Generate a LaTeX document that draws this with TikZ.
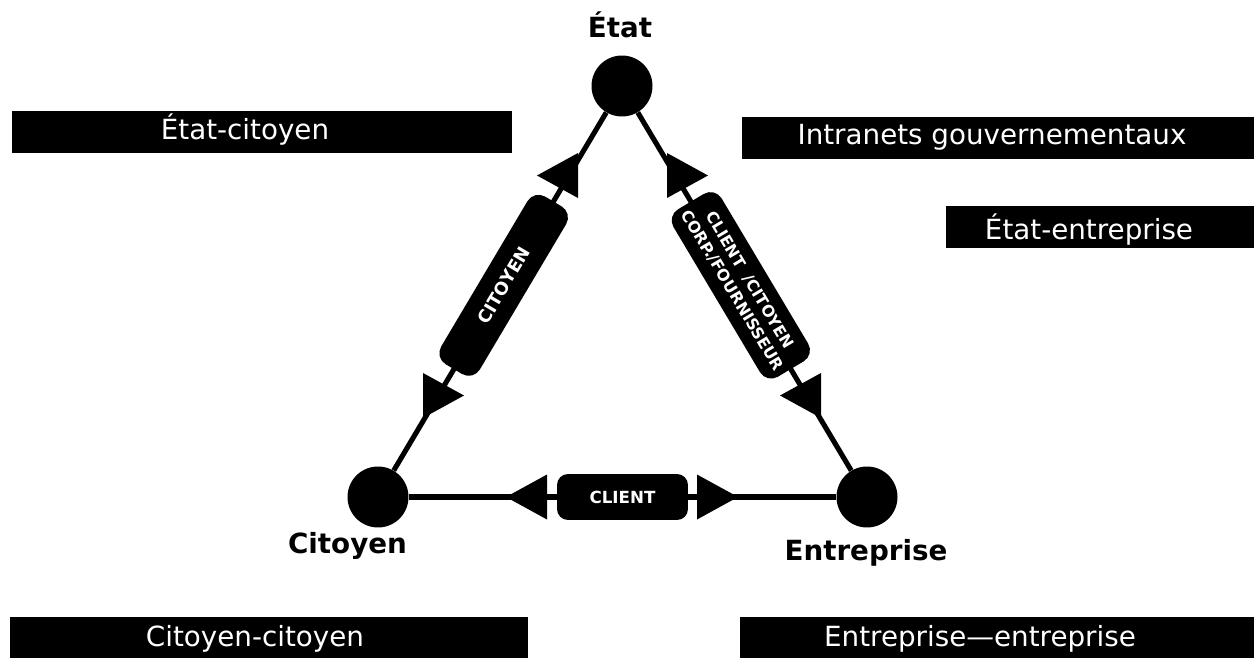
\documentclass[tikz,border=0pt]{standalone}
\usepackage{fontspec}
\setmainfont{DejaVu Sans}
\begin{document}
\begin{tikzpicture}[x=0.02cm,y=-0.02cm,
  hub/.style={circle,fill=black,minimum size=1.22cm,inner sep=0pt},
  lbl/.style={font=\fontsize{15.8}{18}\selectfont\bfseries,inner sep=0pt,anchor=base},
  band/.style={fill=black},
  bandtext/.style={text=white,font=\fontsize{15.8}{18}\selectfont,inner sep=0pt,anchor=base},
  link/.style={line width=2.9pt},
  pill/.style={fill=black,text=white,rounded corners=0.26cm,inner sep=0pt,align=center,sloped},
  tri/.pic={\fill (0,-22.5) -- (0,22.5) -- (-41,0) -- cycle;}
]
\useasboundingbox (0,0) rectangle (1254,658);

% side boxes
\path[band] (12,111) rectangle (512,153);
\node[bandtext] (t1) at (245,140) {État-citoyen};
\path[band] (742,117) rectangle (1254,159);
\node[bandtext] (t2) at (992,145) {Intranets gouvernementaux};
\path[band] (946,206) rectangle (1254,248);
\node[bandtext] (t3) at (1089,240) {État-entreprise};
\path[band] (10,617) rectangle (528,658);
\node[bandtext] (t4) at (255,646) {Citoyen-citoyen};
\path[band] (740,617) rectangle (1254,658);
\node[bandtext] (t5) at (980,646) {Entreprise—entreprise};

% hubs
\node[hub] (etat) at (622,86) {};
\node[hub] (cit) at (378,497) {};
\node[hub] (ent) at (867,497) {};

% connectors
\draw[link] (etat) -- (cit);
\draw[link] (etat) -- (ent);
\draw[link] (cit) -- (ent);

% arrow heads
\pic at (578,175.5) {tri};
\pic[xscale=-1] at (423,395.5) {tri};
\pic[xscale=-1] at (667,175.5) {tri};
\pic at (821,395.5) {tri};
\pic at (547,497) {tri};
\pic[xscale=-1] at (697,497) {tri};

% connector labels
\path (cit.center) -- node[pill,pos=0.515,minimum width=3.9cm,minimum height=0.9cm,
  font=\fontsize{10}{11}\selectfont\bfseries] (p1) {CITOYEN} (etat.center);
\path (etat.center) -- node[pill,pos=0.485,minimum width=3.9cm,minimum height=1.12cm,
  font=\fontsize{9}{11.5}\selectfont\bfseries] (p2) {CLIENT\ \ /CITOYEN\\CORP./FOURNISSEUR} (ent.center);
\path (cit.center) -- node[pill,pos=0.5,minimum width=2.62cm,minimum height=0.92cm,
  rounded corners=0.22cm,font=\fontsize{9.5}{10}\selectfont\bfseries] (p3) {CLIENT} (ent.center);

% node labels
\node[lbl] (le) at (620,38) {État};
\node[lbl] (lc) at (347.5,553) {Citoyen};
\node[lbl] (ln) at (866,560) {Entreprise};
\end{tikzpicture}
\end{document}
